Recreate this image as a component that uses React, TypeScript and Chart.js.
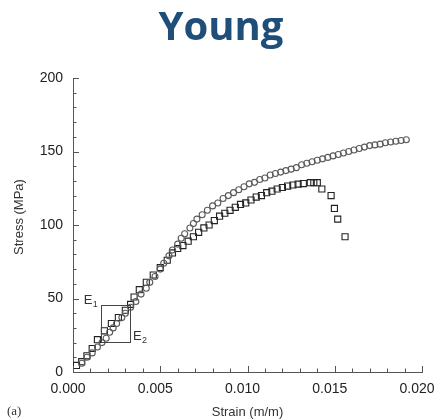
import React, { useEffect, useRef } from "react";
import { Chart, registerables } from "chart.js";

Chart.register(...registerables);

const titleText = "Young";
const xTitle = "Strain (m/m)";
const yTitle = "Stress (MPa)";
const panelLabel = "(a)";

const xTicks = [0, 0.005, 0.01, 0.015, 0.02];
const yTicks = [0, 50, 100, 150, 200];

const circleStrain = [
  0.0005, 0.0008, 0.0011, 0.0014, 0.00166, 0.0019, 0.0021, 0.0023, 0.0025, 0.0028,
  0.003, 0.0033, 0.0036, 0.0039, 0.0042, 0.0044, 0.0047, 0.005, 0.0052, 0.0055,
  0.0057, 0.006, 0.0062, 0.0064, 0.0067, 0.0069, 0.0071, 0.0074, 0.0077, 0.008,
  0.0083, 0.0086, 0.0089, 0.0092, 0.0095, 0.0098, 0.0101, 0.0104, 0.0107, 0.011,
  0.0113, 0.0116, 0.0119, 0.0122, 0.0125, 0.0128, 0.0131, 0.0134, 0.0137, 0.014,
  0.0143, 0.0146, 0.0149, 0.0152, 0.0155, 0.0158, 0.0161, 0.0164, 0.0167, 0.017,
  0.0173, 0.0176, 0.0179, 0.0182, 0.0185, 0.0188, 0.0191,
];
const circleStress = [
  6, 10, 13, 17, 20, 23, 27, 30, 33, 37,
  40, 44, 48, 53, 57, 61, 65, 70, 74, 79,
  83, 87, 91, 94, 98, 101, 104, 107, 110, 113,
  115, 118, 120, 122, 124, 126, 128, 129, 131, 132,
  134, 135, 136, 137, 138, 139, 141, 142, 143, 144,
  145, 146, 147, 148, 149, 150, 151, 152, 153, 154,
  154.5, 155, 156, 156.5, 157, 157.5, 158,
];

const squareStrain = [
  0.0002, 0.0005, 0.0008, 0.0011, 0.0014, 0.0018, 0.0022, 0.0026, 0.003, 0.0033,
  0.0035, 0.0038, 0.0042, 0.0046, 0.005, 0.0054, 0.0057, 0.006, 0.0063, 0.0066,
  0.0069, 0.0072, 0.0075, 0.0078, 0.0081, 0.0084, 0.0087, 0.009, 0.0093, 0.0096,
  0.0099, 0.0102, 0.0105, 0.0108, 0.0111, 0.0114, 0.0117, 0.012, 0.0123, 0.0126,
  0.0129, 0.0132, 0.0136, 0.0138, 0.014, 0.01426, 0.01479, 0.01498, 0.01517, 0.01559,
];
const squareStress = [
  4.5, 7, 11, 16, 22, 28, 33, 37, 42, 46,
  51, 56, 61, 66, 71, 76, 81, 84, 86, 89,
  92, 95, 98, 100, 103, 106, 108, 110, 112, 114,
  115, 117, 119, 120, 122, 123, 124.5, 125.5, 126.5, 127.2,
  127.8, 128.2, 128.8, 128.8, 128.8, 124.5, 120, 111.3, 104, 92,
];

// E1/E2 box in data units
const boxStrain = [0.00159, 0.00327];
const boxStress = [20.4, 45.6];

const annotPlugin = {
  id: "annot",
  afterDraw(chart: any) {
    const { ctx } = chart;
    const xs = chart.scales.x;
    const ys = chart.scales.y;
    const area = chart.chartArea;
    ctx.save();

    // inward ticks
    ctx.strokeStyle = "#555";
    ctx.lineWidth = 1;
    ctx.beginPath();
    for (let i = 0; i <= 20; i++) {
      const v = i * 0.001;
      const px = Math.round(xs.getPixelForValue(v)) + 0.5;
      const len = i % 5 === 0 ? 6 : 3.5;
      ctx.moveTo(px, area.bottom);
      ctx.lineTo(px, area.bottom - len);
    }
    for (let i = 0; i <= 20; i++) {
      const v = i * 10;
      const py = Math.round(ys.getPixelForValue(v)) + 0.5;
      const len = i % 5 === 0 ? 6 : 3.5;
      ctx.moveTo(area.left, py);
      ctx.lineTo(area.left + len, py);
    }
    ctx.stroke();

    // box
    const bx0 = xs.getPixelForValue(boxStrain[0]);
    const bx1 = xs.getPixelForValue(boxStrain[1]);
    const by0 = ys.getPixelForValue(boxStress[1]);
    const by1 = ys.getPixelForValue(boxStress[0]);
    ctx.strokeStyle = "#444";
    ctx.lineWidth = 1;
    ctx.strokeRect(Math.round(bx0) + 0.5, Math.round(by0) + 0.5, Math.round(bx1 - bx0), Math.round(by1 - by0));

    // E labels
    ctx.fillStyle = "#333";
    ctx.textBaseline = "alphabetic";
    ctx.textAlign = "left";
    ctx.font = "13px 'Liberation Sans', Arial, sans-serif";
    ctx.fillText("E", bx0 - 17, by0 - 1);
    ctx.fillText("E", bx1 + 3, by1 - 2);
    ctx.font = "9px 'Liberation Sans', Arial, sans-serif";
    ctx.fillText("1", bx0 - 8, by0 + 2);
    ctx.fillText("2", bx1 + 12, by1 + 1);

    // title
    ctx.fillStyle = "#1F4E79";
    ctx.font = "bold 40px 'Open Sans', sans-serif";
    ctx.textAlign = "center";
    ctx.fillText(titleText, 221, 40);

    // axis titles
    ctx.fillStyle = "#333";
    ctx.font = "13px 'Liberation Sans', Arial, sans-serif";
    ctx.textAlign = "center";
    ctx.textBaseline = "middle";
    ctx.fillText(xTitle, (area.left + area.right) / 2, 412);
    ctx.save();
    ctx.translate(19, 217);
    ctx.rotate(-Math.PI / 2);
    ctx.fillText(yTitle, 0, 0);
    ctx.restore();

    ctx.font = "13px 'Liberation Serif', serif";
    ctx.textAlign = "left";
    ctx.fillText(panelLabel, 7, 412);

    ctx.restore();
  },
};

export default function App() {
  const ref = useRef<HTMLCanvasElement | null>(null);
  useEffect(() => {
    if (!ref.current) return;
    const circles = circleStrain.map((x, i) => ({ x, y: circleStress[i] }));
    const squares = squareStrain.map((x, i) => ({ x, y: squareStress[i] }));
    const chart = new Chart(ref.current, {
      type: "scatter",
      data: {
        datasets: [
          {
            label: "circles",
            data: circles,
            pointStyle: "circle",
            pointRadius: 3,
            borderColor: "#5a5a5a",
            backgroundColor: "rgba(0,0,0,0)",
            borderWidth: 1.1,
          },
          {
            label: "squares",
            data: squares,
            pointStyle: "rect",
            pointRadius: 4.3,
            borderColor: "#222",
            backgroundColor: "rgba(0,0,0,0)",
            borderWidth: 1.1,
          },
        ],
      },
      options: {
        animation: false,
        responsive: false,
        devicePixelRatio: 1,
        layout: { padding: { top: 78, left: 0, right: 14, bottom: 0 } },
        plugins: {
          legend: { display: false },
          title: { display: false },
          tooltip: { enabled: false },
        },
        scales: {
          x: {
            type: "linear",
            min: 0,
            max: 0.02,
            grid: { display: false, drawTicks: false },
            border: { display: true, color: "#555", width: 1 },
            afterBuildTicks: (scale: any) => {
              scale.ticks = xTicks.map((v) => ({ value: v }));
            },
            afterFit: (scale: any) => {
              scale.height = 48;
              scale.paddingLeft = 0;
              scale.paddingRight = 0;
            },
            ticks: {
              padding: 9,
              labelOffset: -5,
              color: "#222",
              font: { family: "'Liberation Sans', Arial, sans-serif", size: 14 },
              callback: (v: any) => Number(v).toFixed(3),
              maxRotation: 0,
              autoSkip: false,
            },
          },
          y: {
            type: "linear",
            min: 0,
            max: 200,
            grid: { display: false, drawTicks: false },
            border: { display: true, color: "#555", width: 1 },
            afterBuildTicks: (scale: any) => {
              scale.ticks = yTicks.map((v) => ({ value: v }));
            },
            afterFit: (scale: any) => {
              scale.width = 73;
              scale.paddingTop = 0;
              scale.paddingBottom = 0;
            },
            ticks: {
              padding: 10,
              color: "#222",
              font: { family: "'Liberation Sans', Arial, sans-serif", size: 14 },
              callback: (v: any) => String(v),
              autoSkip: false,
            },
          },
        },
      },
      plugins: [annotPlugin],
    });
    return () => chart.destroy();
  }, []);
  return (
    <div style={{ position: "fixed", left: 0, top: 0, width: 436, height: 420, background: "#fff" }}>
      <canvas ref={ref} width={436} height={420} />
    </div>
  );
}
